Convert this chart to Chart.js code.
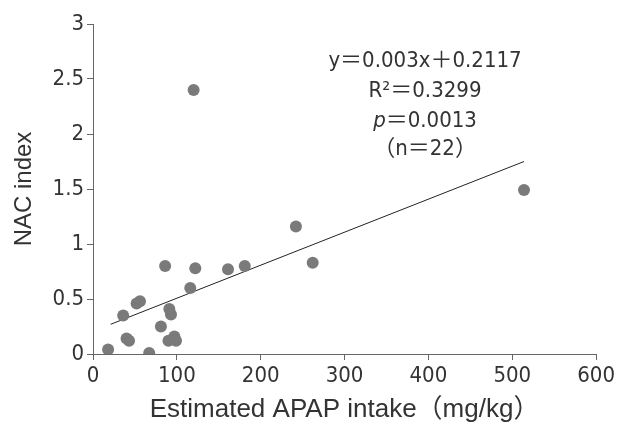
<!DOCTYPE html>
<html>
<head>
<meta charset="utf-8">
<title>NAC index vs APAP intake</title>
<script src="https://cdn.jsdelivr.net/npm/chart.js@4.4.1/dist/chart.umd.min.js"></script>
<style>
	html, body { margin: 0; padding: 0; background: #fff; }
	#wrap { width: 618px; height: 423px; }
</style>
</head>
<body>
<div id="wrap"><canvas id="nacChart" width="618" height="423"></canvas></div>
<script>
// values
var apapIntake = [18, 67, 36, 40, 43, 52, 56, 81, 86, 91, 93, 90, 97, 99, 116, 120, 122, 161, 181, 242, 262, 514];
var nacIndex = [0.04, 0.01, 0.35, 0.14, 0.12, 0.46, 0.48, 0.25, 0.80, 0.41, 0.36, 0.12, 0.16, 0.12, 0.60, 2.40, 0.78, 0.77, 0.80, 1.16, 0.83, 1.49];
var fitX = [21, 514];
var fitY = [0.27, 1.75];
var xTickValues = [0, 100, 200, 300, 400, 500, 600];
var yTickValues = [0, 0.5, 1, 1.5, 2, 2.5, 3];
var statLines = ['y＝0.003x＋0.2117', 'R²＝0.3299', 'p＝0.0013', '（n＝22）'];

(function () {
	'use strict';

	var narrow = '"Liberation Sans Narrow", "DejaVu Sans Condensed", "Noto Sans CJK JP", sans-serif';
	var plain = '"Liberation Sans", Arial, "Noto Sans CJK JP", sans-serif';
	var axisColor = '#666';
	var textColor = '#333';

	var points = apapIntake.map(function (v, i) {
		return { x: v, y: nacIndex[i] };
	});
	var fitLine = fitX.map(function (v, i) {
		return { x: v, y: fitY[i] };
	});

	function toTicks(values) {
		return function (scale) {
			scale.ticks = values.map(function (v) { return { value: v }; });
		};
	}

	// regression stats block, centred over the upper right of the plot
	var statsLabel = {
		id: 'statsLabel',
		afterDatasetsDraw: function (chart) {
			var ctx = chart.ctx;
			var cx = chart.scales.x.getPixelForValue(396);
			var rows = [2.66, 2.39, 2.12, 1.86];
			ctx.save();
			ctx.fillStyle = textColor;
			ctx.textBaseline = 'middle';
			ctx.textAlign = 'left';
			statLines.forEach(function (line, i) {
				var y = chart.scales.y.getPixelForValue(rows[i]);
				var head = '';
				var rest = line;
				if (line.charAt(0) === 'p') {
					head = 'p';
					rest = line.slice(1);
				}
				ctx.font = 'italic 22px ' + narrow;
				var wHead = head ? ctx.measureText(head).width : 0;
				ctx.font = '22px ' + narrow;
				var wRest = ctx.measureText(rest).width;
				var x = cx - (wHead + wRest) / 2;
				if (head) {
					ctx.font = 'italic 22px ' + narrow;
					ctx.fillText(head, x, y);
					ctx.font = '22px ' + narrow;
				}
				ctx.fillText(rest, x + wHead, y);
			});
			ctx.restore();
		}
	};

	new Chart(document.getElementById('nacChart'), {
		type: 'scatter',
		data: {
			datasets: [{
				label: 'NAC index',
				data: points,
				backgroundColor: '#7a7a7a',
				borderWidth: 0,
				pointRadius: 6,
				pointHoverRadius: 6,
				order: 1,
			}, {
				type: 'line',
				label: 'fit',
				data: fitLine,
				borderColor: '#222',
				borderWidth: 1,
				pointRadius: 0,
				fill: false,
				order: 2,
			}],
		},
		options: {
			responsive: false,
			devicePixelRatio: 1,
			animation: false,
			events: [],
			layout: { padding: { top: 24, right: 20, bottom: 0, left: 0 } },
			plugins: {
				legend: { display: false },
				tooltip: { enabled: false },
			},
			scales: {
				x: {
					type: 'linear',
					min: 0,
					max: 600,
					afterBuildTicks: toTicks(xTickValues),
					afterFit: function (scale) { scale.height = 69; },
					grid: { display: true, drawOnChartArea: false, drawTicks: true, tickLength: 6, color: axisColor },
					border: { display: true, color: axisColor, width: 1 },
					ticks: {
						color: textColor,
						padding: 3,
						maxRotation: 0,
						font: { family: narrow, size: 22 },
						callback: function (v) { return String(v); },
					},
					title: {
						display: true,
						text: 'Estimated APAP intake（mg/kg）',
						color: textColor,
						font: { family: plain, size: 26, lineHeight: 1 },
						padding: { top: 0, bottom: 0 },
					},
				},
				y: {
					type: 'linear',
					min: 0,
					max: 3,
					afterBuildTicks: toTicks(yTickValues),
					afterFit: function (scale) { scale.width = 93; },
					grid: { display: true, drawOnChartArea: false, drawTicks: true, tickLength: 6, color: axisColor },
					border: { display: true, color: axisColor, width: 1 },
					ticks: {
						color: textColor,
						padding: 3,
						font: { family: narrow, size: 22 },
						callback: function (v) { return String(v); },
					},
					title: {
						display: true,
						text: 'NAC index',
						color: textColor,
						font: { family: plain, size: 24, lineHeight: 1 },
						padding: { top: 12, bottom: 0 },
					},
				},
			},
		},
		plugins: [statsLabel],
	});
})();
</script>
</body>
</html>
